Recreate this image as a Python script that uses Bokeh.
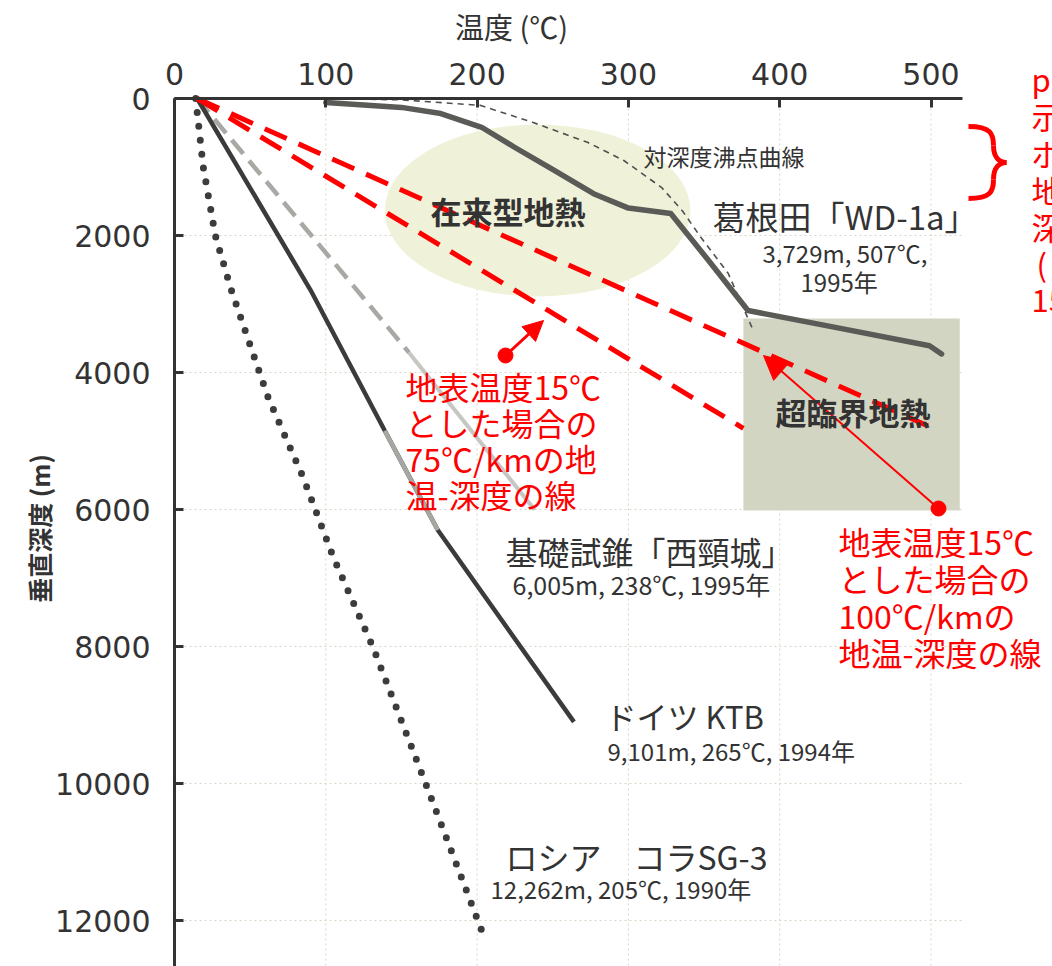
import math
from bokeh.plotting import figure
from bokeh.models import Range1d, FixedTicker, Label, Arrow, NormalHead
from bokeh.embed import file_html
from bokeh.resources import INLINE

# ---------------- data ----------------
TEMP_TICKS = [0, 100, 200, 300, 400, 500]
DEPTH_TICKS = [0, 2000, 4000, 6000, 8000, 10000, 12000]

# Russia Kola SG-3 (dotted)
KOLA_T = [14, 19, 27, 37, 50, 62, 85, 105, 131, 166, 205]
KOLA_D = [0, 1000, 2000, 2760, 3600, 4370, 5530, 6700, 8000, 10000, 12262]

# Germany KTB (solid dark)
KTB_T = [15, 90, 139, 174, 264]
KTB_D = [0, 2800, 4850, 6300, 9101]

# Nishikubiki (grey, dashed upper part)
NISHI_T = [15, 155, 238]
NISHI_D = [0, 3710, 6005]

# Kakkonda WD-1a
WD_T = [100, 150, 176, 203, 225, 251, 277, 300, 328, 353, 379, 441, 499, 507]
WD_D = [60, 130, 220, 420, 715, 1050, 1390, 1600, 1680, 2365, 3095, 3360, 3610, 3729]

# boiling point with depth curve
BOIL_T = [100, 150, 202, 237, 273, 297, 322, 336, 348, 366, 382]
BOIL_D = [0, 20, 100, 350, 640, 905, 1300, 1650, 2030, 2555, 3360]

# 15 degC surface, 75 and 100 degC/km gradient lines
GRAD75_T = [15, 376]
GRAD75_D = [0, 4815]
GRAD100_T = [15, 498]
GRAD100_D = [0, 4780]

# regions
CONV_T, CONV_D, CONV_W, CONV_H = [240], [1635], [202], [2510]
SC_LEFT, SC_RIGHT, SC_TOP, SC_BOTTOM = [376], [519], [3212], [6015]

FONT = "Noto Sans CJK JP"
NUMFONT = "DejaVu Sans"
DARK = "#333333"
RED = "#ff0000"

W, H = 1052, 966
# reference pixel -> data helpers (for annotation placement)
X0, SX, Y0, SY = 174.0, 1.513, 98.0, 0.0685
def tx(X):
    return (X - X0) / SX
def dy(Y):
    return (Y - Y0) / SY

T_AXIS_END = 521
D_AXIS_END = dy(H)

p = figure(width=W, height=H,
           x_range=Range1d(tx(0), tx(W)), y_range=Range1d(dy(H), dy(0)),
           x_axis_location="above", output_backend="svg", toolbar_location=None,
           min_border_left=0, min_border_right=0, min_border_top=0, min_border_bottom=0)
p.outline_line_color = None
p.background_fill_color = "white"
p.border_fill_color = "white"
p.xgrid.grid_line_color = None
p.ygrid.grid_line_color = None

xa = p.xaxis[0]
ya = p.yaxis[0]
xa.fixed_location = 0
ya.fixed_location = 0
xa.ticker = FixedTicker(ticks=TEMP_TICKS, minor_ticks=[])
ya.ticker = FixedTicker(ticks=DEPTH_TICKS, minor_ticks=[])
xa.bounds = (0, T_AXIS_END)
ya.bounds = (0, D_AXIS_END)
for ax in (xa, ya):
    ax.axis_line_color = DARK
    ax.axis_line_width = 3
    ax.major_tick_line_color = DARK
    ax.major_tick_line_width = 3
    ax.major_tick_in = 9
    ax.major_tick_out = 0
    ax.minor_tick_line_color = None
    ax.major_label_text_font = NUMFONT
    ax.major_label_text_font_size = "30px"
    ax.major_label_text_color = DARK
xa.major_label_standoff = 14
ya.major_label_standoff = 24

# faint grid from the tick lists
gx = TEMP_TICKS[1:]
p.segment(x0=gx, y0=[0] * len(gx), x1=gx, y1=[D_AXIS_END] * len(gx),
          line_color="#d6d6c6", line_dash="2 3", line_width=1)
gy = DEPTH_TICKS[1:]
p.segment(x0=[0] * len(gy), y0=gy, x1=[T_AXIS_END] * len(gy), y1=gy,
          line_color="#d6d6c6", line_dash="2 3", line_width=1)

# regions
p.ellipse(x=CONV_T, y=CONV_D, width=CONV_W, height=CONV_H,
          fill_color="#eff1d8", line_color=None)
p.quad(left=SC_LEFT, right=SC_RIGHT, top=SC_TOP, bottom=SC_BOTTOM,
       fill_color="#d3d5c3", line_color=None)

# curves
p.line(BOIL_T, BOIL_D, line_color="#505050", line_width=1.6, line_dash="6 5")
p.line(WD_T, WD_D, line_color="#5a5a57", line_width=5.5, line_join="round", line_cap="round")
p.line(KOLA_T, KOLA_D, line_color="#3c3c3c", line_width=7, line_dash="0 14", line_cap="round")
p.line(NISHI_T[:2], NISHI_D[:2], line_color="#a8a9a4", line_width=4.5, line_dash="18 9")
p.line(NISHI_T[1:], NISHI_D[1:], line_color="#c6c6c2", line_width=4)
p.line(KTB_T, KTB_D, line_color="#3b3b3b", line_width=4.5)
p.line(KTB_T[2:4], KTB_D[2:4], line_color="#a6a6a2", line_width=4.5)

p.line(GRAD75_T, GRAD75_D, line_color=RED, line_width=5, line_dash="24 13")
p.line(GRAD100_T, GRAD100_D, line_color=RED, line_width=5, line_dash="24 13")

# red arrows with dots
arrows = [((505, 355), (543, 320), 3, 20), ((938, 508), (763, 355), 2, 24)]
for (sx0, sy0), (ex0, ey0), lw, hs in arrows:
    p.add_layout(Arrow(end=NormalHead(size=hs, fill_color=RED, line_color=RED, line_width=1),
                       x_start=tx(sx0), y_start=dy(sy0), x_end=tx(ex0), y_end=dy(ey0),
                       line_color=RED, line_width=lw))
    p.scatter([tx(sx0)], [dy(sy0)], size=15, fill_color=RED, line_color=RED)

# red brace
brace = [((968, 126), (993, 145), (990, 126), (993, 133)),
         ((993, 145), (1006, 162), (993, 157), (999, 162)),
         ((1006, 162), (993, 179), (999, 162), (993, 167)),
         ((993, 179), (968, 198), (993, 191), (990, 198))]
p.bezier(x0=[tx(b[0][0]) for b in brace], y0=[dy(b[0][1]) for b in brace],
         x1=[tx(b[1][0]) for b in brace], y1=[dy(b[1][1]) for b in brace],
         cx0=[tx(b[2][0]) for b in brace], cy0=[dy(b[2][1]) for b in brace],
         cx1=[tx(b[3][0]) for b in brace], cy1=[dy(b[3][1]) for b in brace],
         line_color=RED, line_width=5)

def lab(txt, X, Y, size, color=DARK, bold=False, align="left", font=FONT, angle=0):
    p.add_layout(Label(x=tx(X), y=dy(Y), text=txt, text_font=font,
                       text_font_size=f"{size}px", text_color=color,
                       text_baseline="middle", text_align=align, angle=angle,
                       text_font_style="bold" if bold else "normal"))

# axis titles
lab("温度 (℃)", 511, 25, 29, align="center")
lab("垂直深度 (m)", 38, 528, 25, bold=True, align="center", angle=math.pi / 2)

# black labels
lab("対深度沸点曲線", 643, 155, 23)
lab("葛根田「WD-1a」", 712, 215, 33)
lab("3,729m, 507℃,", 762, 252, 24)
lab("1995年", 800, 281, 24)
lab("在来型地熱", 430, 210, 31, bold=True)
lab("超臨界地熱", 775, 411, 31, bold=True)
lab("基礎試錐「西頸城」", 505, 550, 32)
lab("6,005m, 238℃, 1995年", 512, 583, 25)
lab("ドイツ KTB", 605, 715, 31)
lab("9,101m, 265℃, 1994年", 607, 750, 24)
lab("ロシア　コラSG-3", 505, 855, 32)
lab("12,262m, 205℃, 1990年", 490, 888, 24)

# red labels
for i, t in enumerate(["地表温度15℃", "とした場合の", "75℃/kmの地", "温-深度の線"]):
    lab(t, 405, 385 + 36 * i, 32, color=RED)
for i, t in enumerate(["地表温度15℃", "とした場合の", "100℃/kmの", "地温-深度の線"]):
    lab(t, 838, 540 + 37.3 * i, 32, color=RED)
for i, (t, X) in enumerate([("p.", 1031), ("示", 1031), ("ポ", 1031), ("地", 1031),
                            ("深", 1031), ("(", 1036), ("15", 1031)]):
    lab(t, X, 78 + 37 * i, 31, color=RED)

open("out.html", "w").write(file_html(p, INLINE))
